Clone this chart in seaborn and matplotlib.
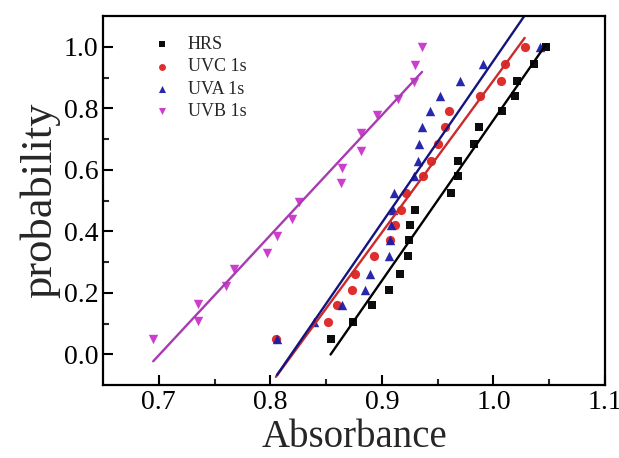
import matplotlib
matplotlib.use('Agg')
import matplotlib.pyplot as plt
import seaborn as sns
import numpy as np

# probability plot data
p19 = [0.05, 0.105, 0.16, 0.21, 0.26, 0.32, 0.37, 0.42, 0.47, 0.525,
       0.58, 0.63, 0.685, 0.74, 0.79, 0.84, 0.89, 0.945, 1.0]
p18 = [0.05, 0.108, 0.165, 0.221, 0.276, 0.33, 0.385, 0.44, 0.496,
       0.556, 0.606, 0.661, 0.72, 0.777, 0.83, 0.887, 0.941, 1.0]

hrs = [0.854, 0.874, 0.891, 0.906, 0.916, 0.923, 0.924, 0.925, 0.930, 0.962,
       0.968, 0.968, 0.983, 0.987, 1.008, 1.019, 1.021, 1.036, 1.047]
uvc = [0.805, 0.852, 0.860, 0.873, 0.876, 0.893, 0.907, 0.912, 0.9175, 0.922,
       0.937, 0.944, 0.950, 0.957, 0.960, 0.988, 1.007, 1.010, 1.028]
uva = [0.806, 0.839, 0.8645, 0.885, 0.889, 0.906, 0.907, 0.908, 0.910, 0.911,
       0.929, 0.932, 0.933, 0.936, 0.943, 0.952, 0.970, 0.991, 1.042]
uvb = [0.695, 0.735, 0.735, 0.760, 0.767, 0.797, 0.806, 0.819, 0.826,
       0.8635, 0.8645, 0.881, 0.881, 0.896, 0.914, 0.929, 0.930, 0.936]

series = [
    ('HRS', hrs, p19, 's', 'black', 'black', 36),
    ('UVC 1s', uvc, p19, 'o', '#dd2222', '#cc2a2a', 44),
    ('UVA 1s', uva, p19, '^', '#1c1ca8', '#14147e', 46),
    ('UVB 1s', uvb, p18, 'v', '#cc33cc', '#a63cb0', 46),
]

sns.set_style('ticks')
plt.rcParams['font.family'] = ['Liberation Serif', 'DejaVu Serif']

fig = plt.figure(figsize=(6.19, 4.58), dpi=100)
ax = fig.add_axes([0.1664, 0.1594, 0.811, 0.8056])

for name, x, y, mk, c, lc, s in series:
    sns.regplot(x=np.array(x), y=np.array(y), ax=ax, ci=None, marker=mk,
                label=name, truncate=True,
                scatter_kws={'s': s, 'color': c, 'alpha': 0.95, 'linewidths': 0},
                line_kws={'color': lc, 'lw': 1.7})

ax.set_xlim(0.65, 1.1)
ax.set_ylim(-0.1, 1.1)
ax.set_xticks([0.7, 0.8, 0.9, 1.0, 1.1])
ax.set_xticks([0.75, 0.85, 0.95, 1.05], minor=True)
ax.set_yticks([0.0, 0.2, 0.4, 0.6, 0.8, 1.0])
ax.set_yticks([0.1, 0.3, 0.5, 0.7, 0.9], minor=True)
ax.xaxis.set_major_formatter(matplotlib.ticker.FormatStrFormatter('%.1f'))
ax.yaxis.set_major_formatter(matplotlib.ticker.FormatStrFormatter('%.1f'))
ax.tick_params(which='major', direction='in', length=7, width=1.5, labelsize=20, colors='black')
ax.tick_params(which='minor', direction='in', length=4, width=1.5)
for sp in ax.spines.values():
    sp.set_linewidth(1.6)
    sp.set_color('black')

ax.set_xlabel('Absorbance', fontsize=28, labelpad=3)
ax.set_ylabel('probability', fontsize=32, labelpad=2)

ax.legend(loc='upper left', frameon=False, fontsize=13, labelspacing=0.3,
          handletextpad=0.4, markerscale=0.75, bbox_to_anchor=(0.05, 0.99))

fig.savefig('out.png', dpi=100)
